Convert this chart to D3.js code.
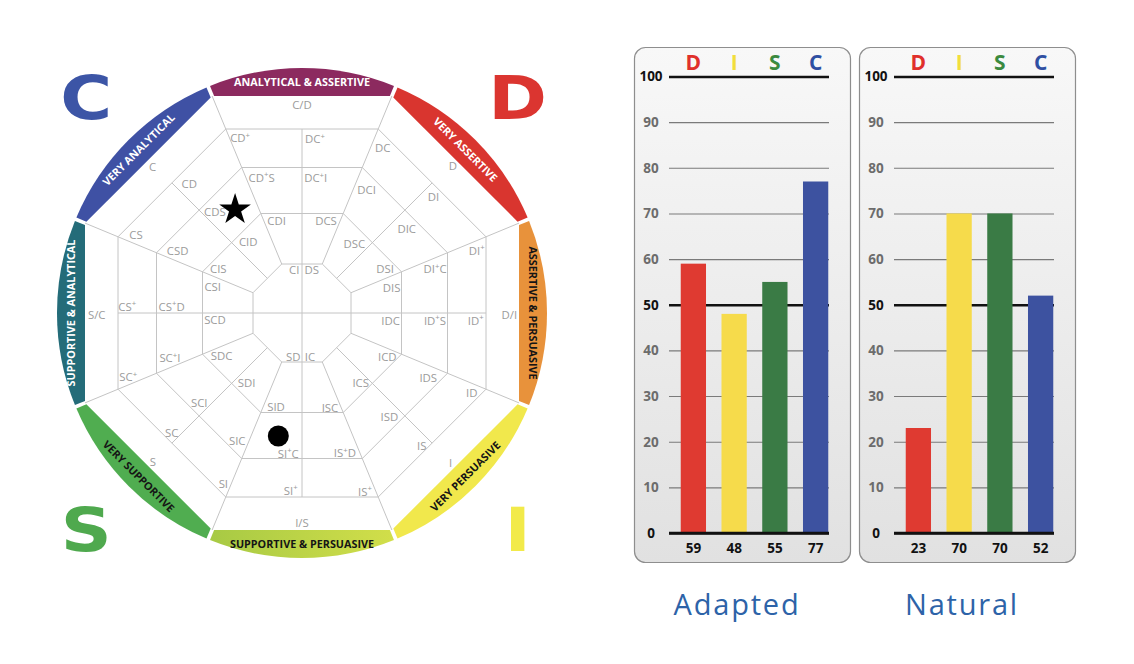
<!DOCTYPE html>
<html><head><meta charset="utf-8">
<script src="https://cdn.jsdelivr.net/npm/d3@7"></script>
<style>
html,body{margin:0;padding:0;background:#fff;}
svg{display:block;font-family:'Open Sans',sans-serif;}
</style></head><body>
<svg id="chart" width="1134" height="664"></svg>
<script>
// ================= DATA =================
const discLetters = ["D", "I", "S", "C"];
const discColors = ["#df3a31", "#f6db4b", "#3a7b45", "#3d52a0"];
const headerColors = ["#e0302b", "#f2de3c", "#3b8a3f", "#2f4fa2"];
const adaptedValues = [59, 48, 55, 77];
const naturalValues = [23, 70, 70, 52];
const panelTitles = ["Adapted", "Natural"];
const yTicks = [0, 10, 20, 30, 40, 50, 60, 70, 80, 90, 100];
const majorTicks = [0, 50, 100];

const bandNames = ["ANALYTICAL & ASSERTIVE", "VERY ASSERTIVE", "ASSERTIVE & PERSUASIVE", "VERY PERSUASIVE",
  "SUPPORTIVE & PERSUASIVE", "VERY SUPPORTIVE", "SUPPORTIVE & ANALYTICAL", "VERY ANALYTICAL"];
const bandColors = ["#8c2a5f", "#d9352f", "#e8923b", "#f1e84c", "url(#yg)", "#50ad50", "#246c79", "#3f51a4"];
const bandTextColors = ["#fff", "#fff", "#151515", "#151515", "#151515", "#151515", "#fff", "#fff"];

const cornerLetters = ["D", "I", "S", "C"];        // at 45, 135, 225, 315 degrees
const cornerColors = ["#db3530", "#f2ea4a", "#4fa94e", "#3c55a6"];

// wheel positions: [label, angle (deg clockwise from top), radius]
const wheelPositions = [
  ["C/D", 0, 208], ["DC+", 4.3, 174.5], ["DC+I", 5.8, 135.4], ["DCS", 14.6, 95.1], ["DS", 12.7, 44.1],
  ["CD+", 340.5, 185.4], ["CD+S", 343.4, 141.2], ["CDI", 344.6, 95.4], ["CI", 349.8, 43.7],
  ["C", 314.4, 209.0], ["CD", 318.8, 171.1], ["CS", 295.2, 183.4], ["CDS", 319.3, 133.5], ["CSD", 296.5, 138.9], ["CID", 323.0, 89.3], ["CIS", 298.1, 94.9],
  ["S/C", 269.4, 205.3], ["CS+", 272.1, 174.8], ["CS+D", 272.8, 130.5], ["CSI", 286.4, 93.1], ["SCD", 265.4, 87.3],
  ["SC+", 249.7, 185.2], ["SC+I", 251.1, 139.6], ["SDC", 241.8, 91.1], ["SDI", 218.4, 89.0], ["SCI", 228.9, 136.4], ["SC", 227.4, 176.9], ["S", 225.1, 210.7], ["SIC", 206.9, 143.2], ["SI", 204.7, 188.2],
  ["SD", 191.3, 44.6], ["SID", 195.4, 97.8], ["SI+C", 185.6, 141.0], ["SI+", 183.6, 178.1], ["I/S", 180, 209.7],
  ["IC", 169.6, 44.4], ["ISC", 163.5, 98.4], ["IS+D", 163.0, 146.7], ["IS+", 160.6, 189.5],
  ["I", 135.3, 211.4], ["IS", 138.0, 178.9], ["ISD", 139.9, 135.6], ["ICS", 140.1, 91.6],
  ["ICD", 117.1, 95.8], ["IDS", 117.0, 141.7], ["ID", 115.3, 187.7],
  ["D/I", 90.6, 207.3], ["ID+", 92.5, 173.9], ["ID+S", 93.3, 133.2], ["IDC", 95.0, 89.0],
  ["DIS", 74.2, 93.2], ["DI+C", 71.7, 140.1], ["DI+", 70.4, 185.5],
  ["D", 45.7, 210.7], ["DI", 48.5, 175.4], ["DIC", 51.3, 134.2], ["DSI", 62.1, 93.9],
  ["DC", 26.0, 184.0], ["DCI", 27.7, 139.0], ["DSC", 36.9, 87.1]
];
// plotted styles on the wheel: [angle, radius]
const adaptedWheel = [327.1, 123.2];   // star
const naturalWheel = [190.9, 125.3];   // dot

// ================= LAYOUT =================
const svg = d3.select("#chart");
const defs = svg.append("defs");
const yg = defs.append("linearGradient").attr("id", "yg").attr("gradientUnits", "userSpaceOnUse")
  .attr("x1", 205).attr("y1", 0).attr("x2", 400).attr("y2", 0);
yg.append("stop").attr("offset", 0).attr("stop-color", "#a6c944");
yg.append("stop").attr("offset", 1).attr("stop-color", "#d3df4a");
const pg = defs.append("linearGradient").attr("id", "panelGrad").attr("x1", 0).attr("y1", 0).attr("x2", 0).attr("y2", 1);
pg.append("stop").attr("offset", 0).attr("stop-color", "#f8f8f8");
pg.append("stop").attr("offset", 1).attr("stop-color", "#e1e1e1");

const cx = 302, cy = 313, R = 245;
const rScale = d3.scaleLinear().domain([0, 245]).range([0, R]);
const rad = d => d * Math.PI / 180;
const pt = (deg, r) => [cx + rScale(r) * Math.sin(rad(deg)), cy - rScale(r) * Math.cos(rad(deg))];
const apOuter = 217, rings = [184, 145.5, 99.5, 49];
const c225 = Math.cos(rad(22.5));
const wheel = svg.append("g");
const line = d3.line();
const gridColor = "#c4c4c4";

// grid rings (octagons)
const octPts = a => d3.range(8).map(j => pt(22.5 + 45 * j, a / c225));
wheel.selectAll(".ring").data(rings).join("path")
  .attr("d", a => line(octPts(a)) + "Z")
  .attr("fill", "none").attr("stroke", gridColor).attr("stroke-width", 1);
// spokes
wheel.selectAll(".spoke").data(d3.range(8)).join("path")
  .attr("d", j => line([pt(22.5 + 45 * j, 49 / c225), pt(22.5 + 45 * j, apOuter / c225)]))
  .attr("stroke", gridColor).attr("stroke-width", 1);
// sector center lines
wheel.selectAll(".mid").data(d3.range(8)).join("path")
  .attr("d", k => line([pt(45 * k, k % 2 === 0 ? 0 : 49), pt(45 * k, 184)]))
  .attr("stroke", gridColor).attr("stroke-width", 1);

// coloured bands
const gapDeg = 0.45;
bandNames.forEach((name, k) => {
  const phi = 45 * k;
  const a0 = phi - 22.5 + gapDeg, a1 = phi + 22.5 - gapDeg;
  const o0 = pt(a0, 245), o1 = pt(a1, 245);
  const i1 = pt(a1, apOuter / Math.cos(rad(a1 - phi))), i0 = pt(a0, apOuter / Math.cos(rad(a0 - phi)));
  wheel.append("path")
    .attr("d", `M${o0}A${R},${R} 0 0 1 ${o1}L${i1}L${i0}Z`)
    .attr("fill", bandColors[k]);
  const tp = pt(phi, 231);
  const rot = k <= 2 ? phi : (k <= 5 ? phi - 180 : phi - 360);
  wheel.append("text")
    .attr("transform", `translate(${tp}) rotate(${rot})`)
    .attr("text-anchor", "middle").attr("dy", "0.36em")
    .attr("font-size", 10.8).attr("font-weight", 700)
    .attr("fill", bandTextColors[k]).text(name);
});

// cell labels
wheel.selectAll(".lbl").data(wheelPositions).join("text")
  .attr("x", d => pt(d[1], d[2])[0]).attr("y", d => pt(d[1], d[2])[1] + 4.2)
  .attr("text-anchor", "middle").attr("font-size", 11.4).attr("fill", "#9b9b9b")
  .each(function (d) {
    const t = d3.select(this);
    const parts = d[0].split("+");
    parts.forEach((p, i) => {
      if (i > 0) {
        t.append("tspan").attr("font-size", 7.8).attr("dy", -4.5).text("+");
        if (p) t.append("tspan").attr("dy", 4.5).text(p);
      } else t.append("tspan").text(p);
    });
  });

// corner letters
cornerLetters.forEach((L, i) => {
  const p = pt(45 + 90 * i, 305);
  svg.append("text").attr("transform", `translate(${p}) scale(1.16,1)`).attr("dy", "0.36em")
    .attr("text-anchor", "middle").attr("font-family", "'DejaVu Sans',sans-serif")
    .attr("font-weight", 700).attr("font-size", 61).attr("fill", cornerColors[i]).text(L);
});

// star and dot
const sp = pt(adaptedWheel[0], adaptedWheel[1]);
svg.append("path").attr("transform", `translate(${sp})`)
  .attr("d", d3.symbol(d3.symbolStar).size(310)()).attr("fill", "#000");
const np = pt(naturalWheel[0], naturalWheel[1]);
svg.append("circle").attr("cx", np[0]).attr("cy", np[1]).attr("r", 10.5).attr("fill", "#000");

// ================= BAR PANELS =================
const y = d3.scaleLinear().domain([0, 100]).range([533, 76.5]);
const panels = [{ title: panelTitles[0], values: adaptedValues, x0: 634 },
                { title: panelTitles[1], values: naturalValues, x0: 859 }];
const xb = d3.scaleBand().domain(discLetters).range([39, 202]).paddingInner(0.38).paddingOuter(0.19);

panels.forEach(p => {
  const g = svg.append("g").attr("transform", `translate(${p.x0},0)`);
  g.append("rect").attr("x", 0.5).attr("y", 47.5).attr("width", 216).attr("height", 515).attr("rx", 11)
    .attr("fill", "url(#panelGrad)").attr("stroke", "#8e8e8e").attr("stroke-width", 1.2);

  const ax = g.append("g").attr("transform", "translate(35,0)")
    .call(d3.axisLeft(y).tickValues(yTicks).tickSize(-160).tickFormat(d3.format("d")));
  ax.attr("font-family", null).attr("font-size", null);
  ax.select(".domain").remove();
  ax.selectAll(".tick line")
    .attr("stroke", d => majorTicks.includes(d) ? "#111" : "#7a7a7a")
    .attr("stroke-width", d => majorTicks.includes(d) ? 2.4 : 1.1);
  ax.selectAll(".tick text").attr("x", -18).attr("text-anchor", "middle")
    .attr("font-size", 13.5).attr("font-weight", 700)
    .attr("fill", d => majorTicks.includes(d) ? "#111" : "#6c6c6c");

  g.selectAll(".bar").data(p.values).join("rect")
    .attr("x", (d, i) => xb(discLetters[i])).attr("width", xb.bandwidth())
    .attr("y", d => y(d)).attr("height", d => y(0) - y(d))
    .attr("fill", (d, i) => discColors[i]);

  // re-draw zero baseline over bars
  g.append("line").attr("x1", 35).attr("x2", 195).attr("y1", y(0)).attr("y2", y(0))
    .attr("stroke", "#111").attr("stroke-width", 2.4);

  const top = g.append("g").attr("transform", "translate(0,62.5)")
    .call(d3.axisTop(xb).tickSize(0));
  top.attr("font-family", null).attr("font-size", null);
  top.select(".domain").remove();
  top.selectAll(".tick text").attr("y", 0).attr("dy", "0.36em")
    .attr("font-size", 21).attr("font-weight", 700)
    .attr("fill", (d, i) => headerColors[i]);

  const bot = g.append("g").attr("transform", "translate(0,548)")
    .call(d3.axisBottom(xb).tickSize(0).tickFormat((d, i) => p.values[i]));
  bot.attr("font-family", null).attr("font-size", null);
  bot.select(".domain").remove();
  bot.selectAll(".tick text").attr("y", 0).attr("dy", "0.36em")
    .attr("font-size", 13.5).attr("font-weight", 700).attr("fill", "#111");

  g.append("text").attr("x", 103).attr("y", 605).attr("dy", "0.36em")
    .attr("text-anchor", "middle").attr("font-size", 29).attr("font-weight", 500)
    .attr("letter-spacing", 1.8).attr("fill", "#2d63a8").text(p.title);
});
</script>
</body></html>
